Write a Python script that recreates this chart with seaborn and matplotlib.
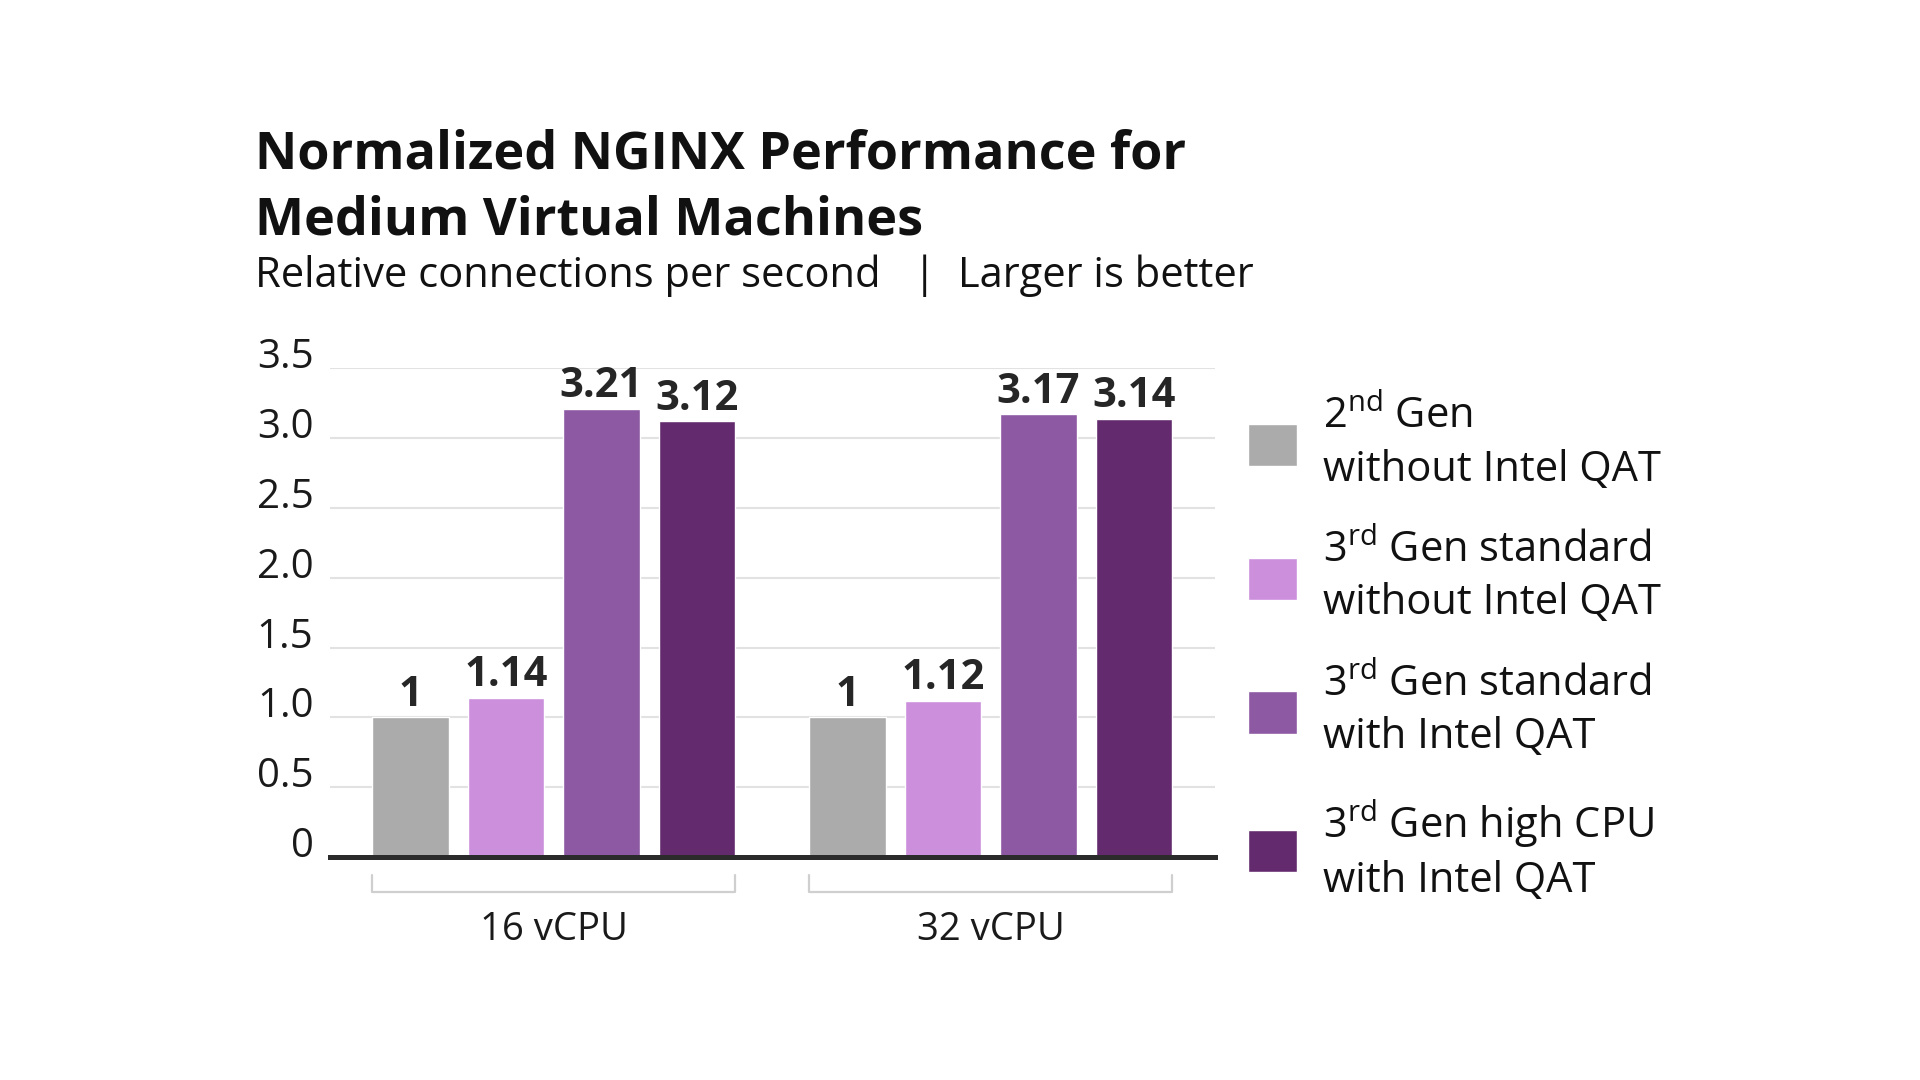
import matplotlib
matplotlib.use('Agg')
import matplotlib.pyplot as plt
from matplotlib.patches import Patch
import pandas as pd
import seaborn as sns

# Chart data
groups = ['16 vCPU', '32 vCPU']
series = ['2nd Gen without Intel QAT',
          '3rd Gen standard without Intel QAT',
          '3rd Gen standard with Intel QAT',
          '3rd Gen high CPU with Intel QAT']
legend_labels = ['2$^{\\mathregular{nd}}$ Gen\nwithout Intel QAT',
                 '3$^{\\mathregular{rd}}$ Gen standard\nwithout Intel QAT',
                 '3$^{\\mathregular{rd}}$ Gen standard\nwith Intel QAT',
                 '3$^{\\mathregular{rd}}$ Gen high CPU\nwith Intel QAT']
gen2_no_qat = [1.00, 1.00]
gen3_std_no_qat = [1.14, 1.12]
gen3_std_qat = [3.21, 3.17]
gen3_high_qat = [3.12, 3.14]
colors = ['#ABABAB', '#CB8FDC', '#8D59A3', '#632B6E']
y_ticks = [0, 0.5, 1.0, 1.5, 2.0, 2.5, 3.0, 3.5]
y_tick_labels = ['0', '0.5', '1.0', '1.5', '2.0', '2.5', '3.0', '3.5']

rows = []
for name, vals in zip(series, [gen2_no_qat, gen3_std_no_qat, gen3_std_qat, gen3_high_qat]):
    for g, v in zip(groups, vals):
        rows.append({'group': g, 'series': name, 'value': v})
df = pd.DataFrame(rows)

sns.set_style('white')
plt.rcParams['font.family'] = ['Open Sans', 'DejaVu Sans']
plt.rcParams['mathtext.fontset'] = 'custom'
plt.rcParams['mathtext.rm'] = 'Open Sans'

fig = plt.figure(figsize=(19.2, 10.8), dpi=100)
ax = fig.add_axes([0.172, 0.2065, 0.461, 0.4525])
sns.barplot(data=df, x='group', y='value', hue='series', palette=colors,
            width=0.874, gap=0.2, saturation=1, legend=False, ax=ax)

ax.set_xlim(-0.511, 1.514)
ax.set_ylim(0, 3.5)
ax.set_yticks(y_ticks)
ax.set_yticklabels(y_tick_labels)
for lbl in ax.get_yticklabels():
    lbl.set_verticalalignment('baseline')
ax.yaxis.grid(True, color='#E2E2E2', lw=1.5)
ax.set_axisbelow(True)
for s in ['top', 'left', 'right']:
    ax.spines[s].set_visible(False)
ax.spines['bottom'].set_color('#2B2B2B')
ax.spines['bottom'].set_linewidth(3.6)
ax.tick_params(axis='both', length=0, colors='#1A1A1A')
ax.tick_params(axis='y', pad=12, labelsize=29)
ax.tick_params(axis='x', pad=39, labelsize=27.5)
ax.set(xlabel='', ylabel='')

# Value labels
for c in ax.containers:
    ax.bar_label(c, labels=[f'{v:g}' for v in c.datavalues], padding=1,
                 fontsize=30, fontweight='bold', color='#262626')

# Brackets under each group
extents = {}
for p in ax.patches:
    gi = int(round(p.get_x() + p.get_width() / 2))
    x0, x1 = p.get_x(), p.get_x() + p.get_width()
    lo, hi = extents.get(gi, (x0, x1))
    extents[gi] = (min(lo, x0), max(hi, x1))
for lo, hi in extents.values():
    ax.plot([lo, lo, hi, hi], [-0.037, -0.072, -0.072, -0.037], color='#CFCFCF',
            lw=1.6, transform=ax.get_xaxis_transform(), clip_on=False)

# Titles
fig.text(0.133, 0.8444, 'Normalized NGINX Performance for', fontsize=37.5,
         fontweight='bold', va='baseline', color='#111111')
fig.text(0.133, 0.7833, 'Medium Virtual Machines', fontsize=37.5,
         fontweight='bold', va='baseline', color='#111111')
fig.text(0.133, 0.7347, 'Relative connections per second   |  Larger is better',
         fontsize=30, va='baseline', color='#111111')

# Legend
handles = [Patch(facecolor=c) for c in colors]
leg = fig.legend(handles, legend_labels, loc='upper left',
                 bbox_to_anchor=(0.650, 0.634), frameon=False, fontsize=30,
                 handlelength=1.18, handleheight=1.18, handletextpad=0.62,
                 labelspacing=0.92, borderpad=0, borderaxespad=0)
for t in leg.get_texts():
    t.set_linespacing(1.32)
    t.set_color('#111111')

fig.savefig('out.png', dpi=100, facecolor='white')
